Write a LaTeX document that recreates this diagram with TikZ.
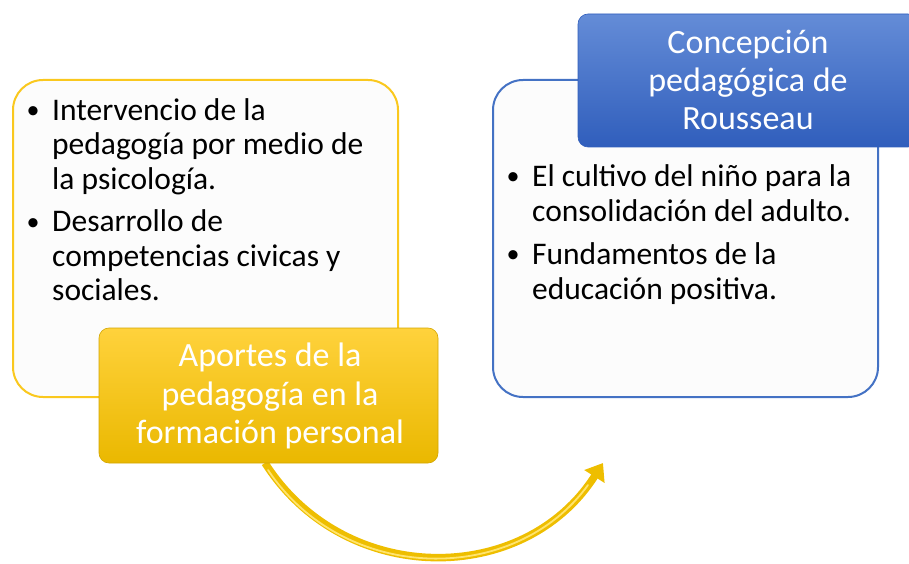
\documentclass[tikz,border=0pt]{standalone}
\usepackage{fontspec}
\setmainfont{Carlito}
\usetikzlibrary{arrows.meta}
\definecolor{ybord}{RGB}{250,200,30}
\definecolor{bbord}{RGB}{68,114,196}
\definecolor{boxfill}{RGB}{252,252,252}
\definecolor{ytop}{RGB}{255,210,60}
\definecolor{ybot}{RGB}{234,184,0}
\definecolor{btop}{RGB}{100,140,215}
\definecolor{bbot}{RGB}{48,94,188}
\definecolor{arrowc}{RGB}{238,190,0}
\definecolor{arrowhi}{RGB}{255,228,110}
\tikzset{
  contentbox/.style={rounded corners=30pt, fill=boxfill, line width=2pt,
    minimum width=385pt, minimum height=317pt, inner sep=0pt},
  titlebox/.style={rounded corners=10pt, minimum width=339pt, minimum height=135pt,
    inner sep=0pt},
  titletext/.style={text=white, inner sep=0pt, anchor=north,
    font=\fontsize{34}{38.5}\selectfont},
  bullettext/.style={inner sep=0pt, anchor=north west,
    font=\fontsize{31.5}{34.5}\selectfont}
}
\newcommand{\bul}{\makebox[20pt][c]{\fontsize{26}{26}\selectfont\raisebox{1.5pt}{\textbullet}}}
\begin{document}
\begin{tikzpicture}[x=1pt,y=-1pt]
\useasboundingbox (0,0) rectangle (909,564);
% content boxes
\node[contentbox, draw=ybord] (lbox) at (205.5,238.5) {};
\node[contentbox, draw=bbord] (rbox) at (685.5,238.5) {};
% arrow (under title box)
\coordinate (astart) at (265,463);
\coordinate (aend) at (603,463);
\draw[arrowc, line width=7.5pt, -{Triangle[length=16pt,width=23pt]}]
  (astart) .. controls (344,587) and (524,587) .. (aend);
\draw[arrowhi, line width=1.8pt, line cap=round]
  (268,470) .. controls (345,585) and (515,586) .. (588,485);
% title boxes
\node[titlebox, top color=ytop, bottom color=ybot, draw=ybot!90!black, line width=0.6pt] (ytitle) at (268.5,395.5) {};
\node[titlebox, minimum width=340pt, minimum height=133pt, top color=btop, bottom color=bbot, draw=bbot, line width=0.6pt] (btitle) at (748,80.5) {};
% title texts
\node[titletext] (ytext) at (270,339.8) {\begin{tabular}{@{}c@{}}Aportes de la\\pedagogía en la\\formación personal\end{tabular}};
\node[titletext, font=\fontsize{34}{38}\selectfont] (btext) at (748,26.7) {\begin{tabular}{@{}c@{}}Concepción\\pedagógica de\\Rousseau\end{tabular}};
% bullet texts
\node[bullettext] (ltext) at (23,95.85) {\begin{tabular}{@{}p{29pt}@{}l@{}}
\bul & Intervencio de la\\
 & pedagogía por medio de\\
 & la psicología.\\[8pt]
\bul & Desarrollo de\\
 & competencias civicas y\\
 & sociales.
\end{tabular}};
\node[bullettext, font=\fontsize{31.5}{35.5}\selectfont] (rtext) at (503,161.15) {\begin{tabular}{@{}p{29pt}@{}l@{}}
\bul & El cultivo del niño para la\\
 & consolidación del adulto.\\[7pt]
\bul & Fundamentos de la\\
 & educación positiva.
\end{tabular}};
\end{tikzpicture}
\end{document}
